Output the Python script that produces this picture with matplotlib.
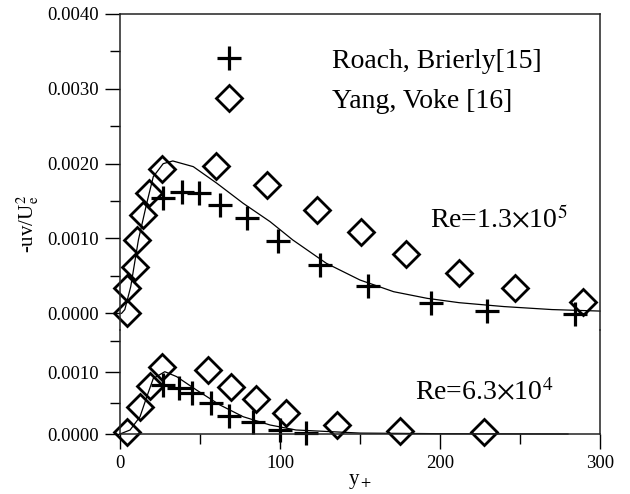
import matplotlib
matplotlib.use("Agg")
import matplotlib.pyplot as plt
import numpy as np

plt.rcParams["font.family"] = ["Liberation Serif", "DejaVu Serif"]
plt.rcParams["mathtext.fontset"] = "stix"

# Re = 1.3x10^5 (upper)
roach_hi_y = [27, 38.5, 49.6, 62.5, 79.6, 98.9, 125, 155, 194.4, 229.6, 284.4]
roach_hi_v = [1.537e-3, 1.626e-3, 1.613e-3, 1.448e-3, 1.27e-3, 0.965e-3,
              0.646e-3, 0.369e-3, 0.134e-3, 0.035e-3, -0.01e-3]
yang_hi_y = [4.2, 4.6, 9.4, 10.8, 14.2, 18.3, 26, 60, 91.7, 123.3, 150.4,
             178.8, 211.9, 246.9, 289.6]
yang_hi_v = [0.01e-3, 0.334e-3, 0.623e-3, 0.98e-3, 1.314e-3, 1.61e-3, 1.925e-3,
             1.97e-3, 1.715e-3, 1.381e-3, 1.091e-3, 0.793e-3, 0.535e-3,
             0.343e-3, 0.155e-3]
curve_hi_y = [1, 3, 6.7, 11.5, 16.7, 20.8, 27, 33, 45.8, 60.4, 77, 93.8, 108,
              129, 150, 171, 192, 212, 240, 270, 300]
curve_hi_v = [0.0, 0.05e-3, 0.356e-3, 0.98e-3, 1.47e-3, 1.826e-3, 2.0e-3,
              2.036e-3, 1.96e-3, 1.74e-3, 1.47e-3, 1.225e-3, 0.98e-3, 0.668e-3,
              0.445e-3, 0.289e-3, 0.2e-3, 0.142e-3, 0.09e-3, 0.05e-3, 0.03e-3]

# Re = 6.3x10^4 (lower)
roach_lo_y = [27, 37, 45, 57, 68, 83, 100, 116]
roach_lo_v = [0.79e-3, 0.74e-3, 0.66e-3, 0.5e-3, 0.29e-3, 0.2e-3, 0.07e-3, 0.02e-3]
yang_lo_y = [4.2, 12.5, 18.8, 26.5, 55.2, 69.4, 84.8, 104, 135.8, 175, 227.7]
yang_lo_v = [0.04e-3, 0.43e-3, 0.78e-3, 1.09e-3, 1.04e-3, 0.767e-3, 0.567e-3,
             0.335e-3, 0.146e-3, 0.054e-3, 0.038e-3]
curve_lo_y = [0, 6.3, 12.5, 16.7, 20.8, 28, 35.4, 48, 62.5, 77, 93.8, 110, 150,
              200, 280]
curve_lo_v = [0.0, 0.065e-3, 0.28e-3, 0.6e-3, 0.9e-3, 1.01e-3, 0.93e-3, 0.71e-3,
              0.47e-3, 0.28e-3, 0.146e-3, 0.065e-3, 0.015e-3, 0.005e-3, 0.0]

W, H = 630, 494
fig = plt.figure(figsize=(W / 100, H / 100), dpi=100)
left, right = 120 / W, 600 / W
split = (H - 330) / H
ax_hi = fig.add_axes([left, split, right - left, (H - 14) / H - split])
ax_lo = fig.add_axes([left, (H - 434) / H, right - left, split - (H - 434) / H])

plus_kw = dict(marker="+", ms=17, mew=2.3, color="black", ls="none", clip_on=False)
dia_kw = dict(marker="D", ms=13, mew=2.0, mec="black", mfc="none", ls="none",
              clip_on=False)

for ax in (ax_hi, ax_lo):
    for s in ax.spines.values():
        s.set_linewidth(1.1)
        s.set_color("#222222")
    ax.set_xlim(0, 300)
    ax.tick_params(which="major", direction="out", length=11, width=1.0,
                   labelsize=13.5, pad=4)
    ax.tick_params(which="minor", direction="out", length=7, width=1.0)
    ax.yaxis.set_major_formatter(matplotlib.ticker.FormatStrFormatter("%.4f"))
    ax.patch.set_alpha(0)

# upper
ax_hi.plot(curve_hi_y, curve_hi_v, color="black", lw=0.9, clip_on=False)
ax_hi.plot(roach_hi_y, roach_hi_v, label="Roach, Brierly[15]", **plus_kw)
ax_hi.plot(yang_hi_y, yang_hi_v, label="Yang, Voke [16]", **dia_kw)
ax_hi.set_ylim(-0.223e-3, 0.004)
ax_hi.set_yticks(np.arange(0, 0.00401, 0.001))
ax_hi.set_yticks(np.arange(0.0005, 0.004, 0.001), minor=True)
ax_hi.spines["bottom"].set_visible(False)
ax_hi.tick_params(axis="x", which="both", bottom=False, labelbottom=False)
ax_hi.text(0.646, 0.348, r"Re=1.3$\times$10$^5$", transform=ax_hi.transAxes,
           fontsize=20, va="center")
ax_hi.legend(loc="upper left", bbox_to_anchor=(0.17, 0.89), frameon=False,
             fontsize=20, numpoints=1, handlelength=2.0, handletextpad=2.68,
             labelspacing=0.52, borderpad=0, borderaxespad=0)

# lower
ax_lo.plot(curve_lo_y, curve_lo_v, color="black", lw=0.9, clip_on=False)
ax_lo.plot(roach_lo_y, roach_lo_v, **plus_kw)
ax_lo.plot(yang_lo_y, yang_lo_v, **dia_kw)
ax_lo.set_ylim(0, 1.686e-3)
ax_lo.set_yticks([0, 0.001])
ax_lo.set_yticks([0.0005, 0.0015], minor=True)
ax_lo.set_xticks([0, 100, 200, 300])
ax_lo.set_xticks([50, 150, 250], minor=True)
ax_lo.spines["top"].set_visible(False)
ax_lo.text(0.615, 0.4, r"Re=6.3$\times$10$^4$", transform=ax_lo.transAxes,
           fontsize=20, va="center")
ax_lo.set_xlabel(r"y$_+$", fontsize=15, labelpad=0)

fig.text(28 / W, 1 - 224 / H, r"-uv/U$_\mathrm{e}^2$", rotation=90, fontsize=15,
         ha="center", va="center")

fig.savefig("out.png", dpi=100)
